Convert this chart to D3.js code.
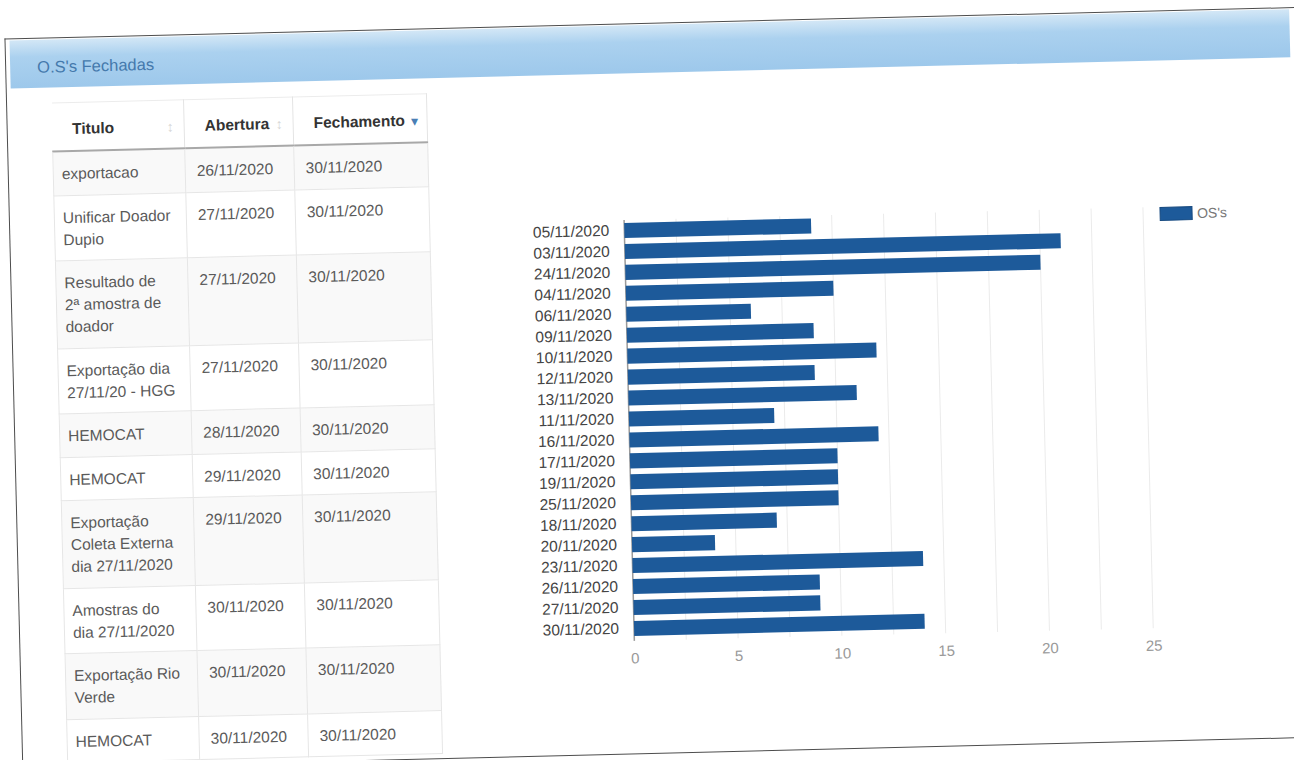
<!DOCTYPE html>
<html>
<head>
<meta charset="utf-8">
<title>O.S's Fechadas</title>
<script src="https://cdn.jsdelivr.net/npm/d3@7"></script>
<style>

    body {
        margin: 0;
        background: #fff;
        font-family: "Liberation Sans", Arial, sans-serif;
    }

    .page {
        position: relative;
        width: 1294px;
        height: 760px;
        overflow: hidden;
        background: #fff;
    }

    /* a foto da tela esta levemente girada */
    .sheet {
        position: absolute;
        left: 0;
        top: 0;
        width: 1294px;
        height: 760px;
        transform: rotate(-1.4deg);
        transform-origin: 647px 380px;
    }

    .panel {
        position: absolute;
        box-sizing: border-box;
        left: 13px;
        top: 23px;
        width: 1300px;
        height: 731px;
        border: 1.5px solid #4d4d4d;
        border-right: none;
    }

    .panel-heading {
        position: absolute;
        left: 4px;
        top: 1px;
        width: 1280px;
        height: 48px;
        background: linear-gradient(#d3e7f6, #abd1ef 35%, #9dc8eb);
        color: #4479ac;
        font-size: 16.5px;
        line-height: 48px;
        padding-left: 27px;
        box-sizing: border-box;
        padding-top: 3px;
    }

    table.os {
        position: absolute;
        left: 58px;
        top: 88px;
        border-collapse: collapse;
        table-layout: fixed;
        width: 375px;
        font-size: 15.5px;
        line-height: 22px;
        color: #5a5a5a;
    }

    table.os th {
        position: relative;
        text-align: left;
        font-weight: bold;
        color: #333;
        padding: 15px 12px 10px 20px;
        border-right: 1px solid #e4e4e4;
        border-top: 1px solid #ececec;
        border-bottom: 2px solid #a8a8a8;
    }

    table.os td {
        vertical-align: top;
        white-space: pre-line;
        padding: 11px 8px 9.5px 8px;
        border: 1px solid #e6e6e6;
    }

    table.os td:nth-child(n+2) {
        padding-left: 11px;
    }

    table.os tbody tr:nth-child(odd) td {
        background: #f9f9f9;
    }

    .sort {
        position: absolute;
        right: 10px;
        top: 15px;
        color: #d6d6d6;
        font-weight: normal;
        font-size: 14px;
    }

    .sort.active {
        color: #4a7fb5;
        font-size: 12px;
        top: 16px;
        right: 6px;
    }

    svg.chart {
        position: absolute;
        left: 0;
        top: 0;
    }

</style>
</head>
<body>

<div class="page">
    <div class="sheet">
        <div class="panel">
            <div class="panel-heading">O.S's Fechadas</div>
        </div>
        <table class="os"></table>
        <svg class="chart" width="1294" height="760"></svg>
    </div>
</div>

<script>

const colunas = ['Titulo', 'Abertura', 'Fechamento'];

const titulos = [
    'exportacao',
    'Unificar Doador\nDupio',
    'Resultado de\n2ª amostra de\ndoador',
    'Exportação dia\n27/11/20 - HGG',
    'HEMOCAT',
    'HEMOCAT',
    'Exportação\nColeta Externa\ndia 27/11/2020',
    'Amostras do\ndia 27/11/2020',
    'Exportação Rio\nVerde',
    'HEMOCAT'
];

const aberturas = [
    '26/11/2020', '27/11/2020', '27/11/2020', '27/11/2020', '28/11/2020',
    '29/11/2020', '29/11/2020', '30/11/2020', '30/11/2020', '30/11/2020'
];

const fechamentos = [
    '30/11/2020', '30/11/2020', '30/11/2020', '30/11/2020', '30/11/2020',
    '30/11/2020', '30/11/2020', '30/11/2020', '30/11/2020', '30/11/2020'
];

const datas = [
    '05/11/2020', '03/11/2020', '24/11/2020', '04/11/2020', '06/11/2020',
    '09/11/2020', '10/11/2020', '12/11/2020', '13/11/2020', '11/11/2020',
    '16/11/2020', '17/11/2020', '19/11/2020', '25/11/2020', '18/11/2020',
    '20/11/2020', '23/11/2020', '26/11/2020', '27/11/2020', '30/11/2020'
];

const qtd_os = [9, 21, 20, 10, 6, 9, 12, 9, 11, 7, 12, 10, 10, 10, 7, 4, 14, 9, 9, 14];

const x_ticks = [0, 5, 10, 15, 20, 25];
const grid_ticks = [0, 2.5, 5, 7.5, 10, 12.5, 15, 17.5, 20, 22.5, 25];

const legenda = "OS's";

const cor_barra = '#1d5a9a';

const main = {};

class BarChart {

    svg;
    x;
    y;

    left = 628;
    right = 1147;
    top = 219.5;
    bottom = 638.5;

    constructor(ref) {

        this.svg = d3.select(ref);

        this.x = d3.scaleLinear()
            .domain([0, 25])
            .range([this.left, this.right])
        ;

        this.y = d3.scaleBand()
            .domain(datas)
            .range([this.top, this.bottom])
            .paddingInner(0.28)
            .paddingOuter(0.14)
        ;

        this.draw_grid();
        this.draw_bars();
        this.draw_axes();
        this.draw_legend();

    }

    draw_grid() {

        this.svg.append('g')
            .selectAll('line')
            .data(grid_ticks)
            .join('line')
            .attr('x1', d => this.x(d))
            .attr('x2', d => this.x(d))
            .attr('y1', this.top)
            .attr('y2', this.bottom + 2)
            .attr('stroke', d => d == 0 ? '#9a9a9a' : '#ebebeb')
            .attr('stroke-width', d => d == 0 ? 1.5 : 1)
        ;

    }

    draw_bars() {

        this.svg.append('g')
            .selectAll('rect')
            .data(datas)
            .join('rect')
            .attr('x', this.x(0))
            .attr('y', d => this.y(d))
            .attr('width', (d, i) => this.x(qtd_os[i]) - this.x(0))
            .attr('height', this.y.bandwidth())
            .attr('fill', cor_barra)
        ;

    }

    draw_axes() {

        const eixo_y = this.svg.append('g')
            .attr('transform', `translate(${this.left},0)`)
            .call(d3.axisLeft(this.y).tickSize(0).tickPadding(15))
        ;

        eixo_y.select('.domain').remove();

        eixo_y.selectAll('text')
            .attr('fill', '#444')
            .style('font-family', '"Liberation Sans", Arial, sans-serif')
            .style('font-size', '15.5px')
        ;

        const eixo_x = this.svg.append('g')
            .attr('transform', `translate(0,${this.bottom + 2})`)
            .call(d3.axisBottom(this.x).tickValues(x_ticks).tickSize(0).tickPadding(12))
        ;

        eixo_x.select('.domain').remove();

        eixo_x.selectAll('text')
            .attr('fill', '#999')
            .style('font-family', '"Liberation Sans", Arial, sans-serif')
            .style('font-size', '15px')
        ;

    }

    draw_legend() {

        const g = this.svg.append('g')
            .attr('transform', 'translate(1164,220)');

        g.append('rect')
            .attr('width', 32)
            .attr('height', 13)
            .attr('fill', cor_barra)
            .attr('stroke', '#174a80')
        ;

        g.append('text')
            .attr('x', 37)
            .attr('y', 6.5)
            .attr('dy', '0.35em')
            .attr('fill', '#777')
            .style('font-family', '"Liberation Sans", Arial, sans-serif')
            .style('font-size', '14px')
            .text(legenda)
        ;

    }

}

function monta_tabela() {

    const table = d3.select('table.os');

    const largura = [132, 109, 134];

    table.append('colgroup')
        .selectAll('col')
        .data(largura)
        .join('col')
        .style('width', d => d + 'px')
    ;

    const th = table.append('thead')
        .append('tr')
        .selectAll('th')
        .data(colunas)
        .join('th')
        .text(d => d)
    ;

    th.append('span')
        .attr('class', (d, i) => i == 2 ? 'sort active' : 'sort')
        .text((d, i) => i == 2 ? '▼' : '↕')
    ;

    const linhas = titulos.map((t, i) => [t, aberturas[i], fechamentos[i]]);

    table.append('tbody')
        .selectAll('tr')
        .data(linhas)
        .join('tr')
        .selectAll('td')
        .data(d => d)
        .join('td')
        .text(d => d)
    ;

}

function init() {

    monta_tabela();

    main.chart = new BarChart('svg.chart');

}

init();

</script>
</body>
</html>
